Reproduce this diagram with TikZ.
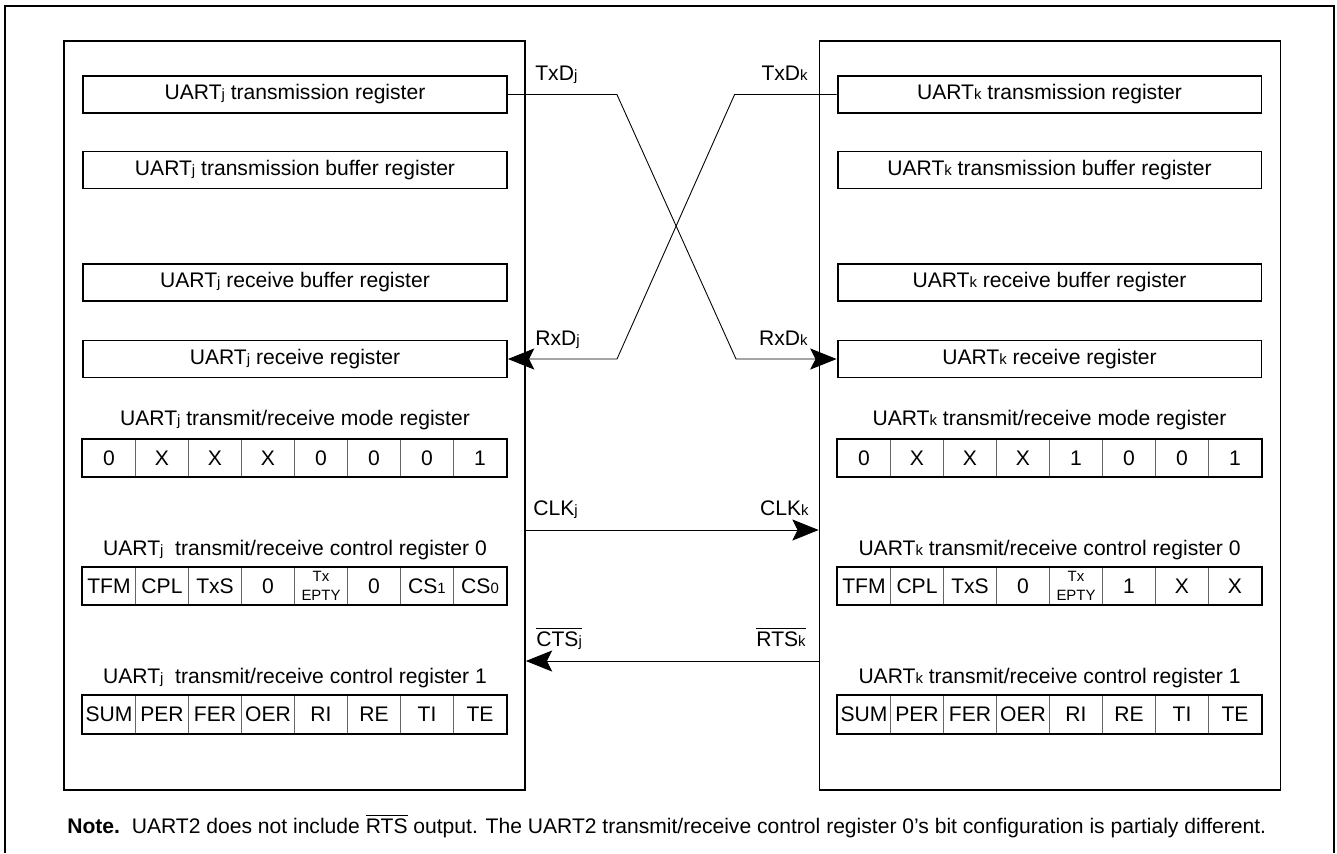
\documentclass[tikz,border=0pt]{standalone}
\usepackage{fontspec}
\setmainfont{Liberation Sans}
\usepackage{tikz}
\usetikzlibrary{positioning,arrows.meta}
\newcommand{\ssub}[1]{{\fontsize{8.5}{8.5}\selectfont #1}}

\begin{document}
\begin{tikzpicture}[
    x=0.02cm,y=-0.02cm,
    font=\fontsize{12}{14}\selectfont,
    frame/.style={line width=1.1pt},
    uart/.style={draw,line width=1pt,minimum width=9.22cm,minimum height=14.98cm,inner sep=0pt},
    reg/.style={draw,line width=1.1pt,minimum width=8.48cm,minimum height=0.74cm,inner sep=0pt},
    bit/.style={draw=black!60,line width=0.5pt,minimum width=1.06cm,minimum height=0.76cm,inner sep=0pt,align=center},
    tbl/.style={draw,line width=1.1pt},
    title/.style={inner sep=0pt},
    sig/.style={inner sep=0pt},
    wire/.style={line width=0.5pt},
    arr/.style={wire,-{Stealth[length=15pt,width=12pt,inset=3pt]}}
  ]
    \useasboundingbox (0,0) rectangle (1337,853);
    \draw[frame] (5,853) -- (5,6) -- (1334,6) -- (1334,853);

    \node[uart] (jbox) at (294.5,415.5) {};
    \node[uart] (kbox) at (1050,415.5) {};

    \node[reg] (jtx) at (295,94.5) {UART\ssub{j} transmission register};
    \node[reg] (jtxb) at (295,170) {UART\ssub{j} transmission buffer register};
    \node[reg] (jrxb) at (295,282.5) {UART\ssub{j} receive buffer register};
    \node[reg] (jrx) at (295,359) {UART\ssub{j} receive register};
    \node[reg] (ktx) at (1049.5,94.5) {UART\ssub{k} transmission register};
    \node[reg] (ktxb) at (1049.5,170) {UART\ssub{k} transmission buffer register};
    \node[reg] (krxb) at (1049.5,282.5) {UART\ssub{k} receive buffer register};
    \node[reg] (krx) at (1049.5,359) {UART\ssub{k} receive register};

    \node[title] (jmodet) at (295,420) {UART\ssub{j} transmit/receive mode register};
    \node[title] (jc0t) at (295,550) {UART\ssub{j}\ \ transmit/receive control register 0};
    \node[title] (jc1t) at (295,678) {UART\ssub{j}\ \ transmit/receive control register 1};
    \node[title] (kmodet) at (1049.5,420) {UART\ssub{k} transmit/receive mode register};
    \node[title] (kc0t) at (1049.5,550) {UART\ssub{k} transmit/receive control register 0};
    \node[title] (kc1t) at (1049.5,678) {UART\ssub{k} transmit/receive control register 1};

    \foreach \v [count=\i] in {0,X,X,X,0,0,0,1}
      \node[bit] (jmode\i) at ({56+53*\i},458) {\v};
    \foreach \v [count=\i] in {TFM,CPL,TxS,0,{\ssub{Tx}\\[-3pt]\ssub{EPTY}},0,CS\ssub{1},CS\ssub{0}}
      \node[bit] (jc0\i) at ({56+53*\i},586) {\v};
    \foreach \v [count=\i] in {SUM,PER,FER,OER,RI,RE,TI,TE}
      \node[bit] (jc1\i) at ({56+53*\i},714.5) {\v};
    \foreach \v [count=\i] in {0,X,X,X,1,0,0,1}
      \node[bit] (kmode\i) at ({811+53*\i},458) {\v};
    \foreach \v [count=\i] in {TFM,CPL,TxS,0,{\ssub{Tx}\\[-3pt]\ssub{EPTY}},1,X,X}
      \node[bit] (kc0\i) at ({811+53*\i},586) {\v};
    \foreach \v [count=\i] in {SUM,PER,FER,OER,RI,RE,TI,TE}
      \node[bit] (kc1\i) at ({811+53*\i},714.5) {\v};
    \foreach \t in {jmode,jc0,jc1,kmode,kc0,kc1}
      \draw[tbl] (\t1.north west) rectangle (\t8.south east);

    \draw[arr] (jtx.east) -- ++(109,0) -- (736,359) -- (krx.west);
    \draw[arr] (ktx.west) -- ++(-102,0) -- (617,359) -- (jrx.east);
    \coordinate (clk) at (0,530);
    \coordinate (cts) at (0,661);
    \draw[arr] (jbox.east |- clk) -- (kbox.west |- clk);
    \draw[arr] (kbox.west |- cts) -- (jbox.east |- cts);

    \node[sig,anchor=base west] (txdj) at (535,80) {TxD\ssub{j}};
    \node[sig,anchor=base east] (txdk) at (808,80) {TxD\ssub{k}};
    \node[sig,anchor=base west] (rxdj) at (535,345) {RxD\ssub{j}};
    \node[sig,anchor=base east] (rxdk) at (808,345) {RxD\ssub{k}};
    \node[sig,anchor=base west] (clkj) at (533,515) {CLK\ssub{j}};
    \node[sig,anchor=base east] (clkk) at (809,515) {CLK\ssub{k}};
    \node[sig,anchor=base west] (ctsj) at (536,646) {$\overline{\mbox{CTS\ssub{j}}}$};
    \node[sig,anchor=base east] (rtsk) at (806,646) {$\overline{\mbox{RTS\ssub{k}}}$};

    \node[sig,anchor=base west] (note) at (67,833) {\textbf{Note.}\ \ UART2 does not include $\overline{\mbox{RTS}}$ output. The UART2 transmit/receive control register 0’s bit configuration is partialy different.};
\end{tikzpicture}
\end{document}
